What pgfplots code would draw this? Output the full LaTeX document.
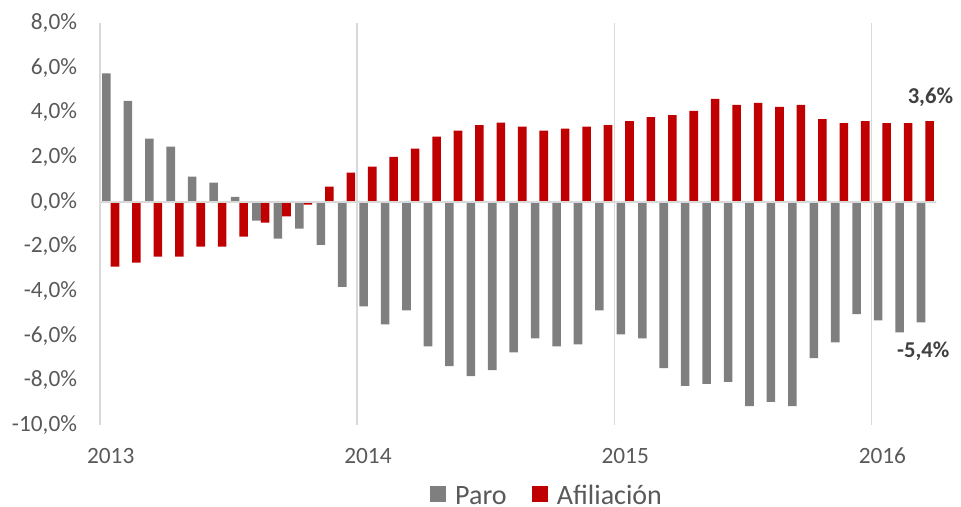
\documentclass[border=0pt]{standalone}
\usepackage{fontspec}
\setmainfont{Carlito}
\usepackage{pgfplots}
\usepackage{pgfplotstable}
\pgfplotsset{compat=1.18}
\definecolor{paro}{HTML}{7F7F7F}
\definecolor{afil}{HTML}{C00000}
\definecolor{gridc}{HTML}{D9D9D9}
\definecolor{txt}{HTML}{595959}
\definecolor{lbl}{HTML}{404040}
\pgfplotsset{sqleg/.style={legend image code/.code={\fill[##1] (0pt,-4.5pt) rectangle (12pt,7.5pt); \path (16.75pt,0pt);}}}

\pgfplotstableread{
i paro afil
0 5.75 -2.91
1 4.51 -2.73
2 2.82 -2.46
3 2.46 -2.46
4 1.12 -2.01
5 0.85 -2.01
6 0.22 -1.57
7 -0.85 -0.94
8 -1.66 -0.66
9 -1.21 -0.13
10 -1.93 0.67
11 -3.81 1.30
12 -4.69 1.57
13 -5.49 2.01
14 -4.87 2.37
15 -6.48 2.91
16 -7.36 3.18
17 -7.81 3.43
18 -7.54 3.54
19 -6.75 3.36
20 -6.12 3.18
21 -6.48 3.27
22 -6.39 3.36
23 -4.87 3.43
24 -5.94 3.61
25 -6.12 3.79
26 -7.45 3.88
27 -8.25 4.06
28 -8.16 4.60
29 -8.07 4.33
30 -9.15 4.42
31 -8.97 4.24
32 -9.15 4.33
33 -7.01 3.70
34 -6.30 3.52
35 -5.04 3.61
36 -5.31 3.52
37 -5.85 3.52
38 -5.40 3.61
}\data

\begin{document}
\begin{tikzpicture}
\begin{axis}[
  scale only axis, width=627pt, height=301.5pt,
  clip=false,
  xmin=-0.5, xmax=38.5, ymin=-10, ymax=8,
  ytick={-10,-8,-6,-4,-2,0,2,4,6,8},
  yticklabels={{-10,0\%},{-8,0\%},{-6,0\%},{-4,0\%},{-2,0\%},{0,0\%},{2,0\%},{4,0\%},{6,0\%},{8,0\%}},
  xtick={0,12,24,36}, xticklabels={2013,2014,2015,2016},
  extra x ticks={-0.5,11.5,23.5,35.5}, extra x tick labels={},
  extra x tick style={grid=major, major grid style={draw=gridc, line width=1.1pt}},
  axis line style={draw=none},
  major tick length=0pt,
  tick style={draw=none},
  tick label style={font=\fontsize{17.5}{20}\selectfont, color=txt},
  yticklabel style={anchor=east, inner sep=0pt, xshift=-17pt},
  xticklabel style={anchor=north, inner sep=0pt, yshift=-17pt},
  legend columns=2,
  legend style={at={(0.3947,-0.177)}, anchor=west, draw=none, inner sep=0pt,
    font=\fontsize{21}{24}\selectfont, text=txt,
    /tikz/every even column/.append style={column sep=17pt}},
]
\addplot[ybar, bar width=0.4, bar shift=-0.2, fill=paro, draw=none, sqleg] table[x=i,y=paro]{\data};
\addplot[ybar, bar width=0.4, bar shift=0.2, fill=afil, draw=none, sqleg] table[x=i,y=afil]{\data};
\legend{Paro, Afiliación}
\draw[gridc, line width=1.3pt] (axis cs:-0.5,0) -- (axis cs:38.5,0);
\node[font=\bfseries\fontsize{17}{20}\selectfont, text=lbl] at (axis cs:38.24,4.68) {3,6\%};
\node[font=\bfseries\fontsize{17}{20}\selectfont, text=lbl] at (axis cs:37.91,-6.69) {-5,4\%};
\end{axis}
\pgfresetboundingbox
\useasboundingbox (-75pt,-61.5pt) rectangle (645.75pt,318.75pt);
\end{tikzpicture}
\end{document}
